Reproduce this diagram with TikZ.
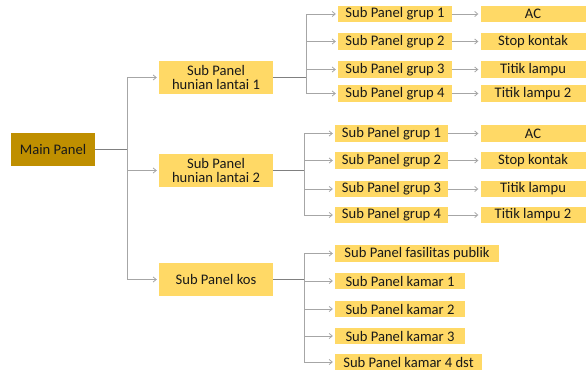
\documentclass[tikz,border=0pt]{standalone}
\usepackage{fontspec}
\setmainfont{Carlito}
\usetikzlibrary{arrows.meta}
\definecolor{panelgold}{HTML}{BF8F00}
\definecolor{panelyellow}{HTML}{FFD966}
\definecolor{linegray}{HTML}{A6A6A6}
\definecolor{feedgray}{HTML}{808080}
\tikzset{
  mainbox/.style={fill=panelgold, minimum width=84pt, minimum height=33pt, inner sep=0pt},
  subbox/.style={fill=panelyellow, minimum width=114pt, minimum height=33pt, inner sep=0pt, align=center},
  grupbox/.style={fill=panelyellow, minimum height=16.5pt, inner sep=0pt},
  feed/.style={draw=feedgray, line width=0.8pt},
  branch/.style={draw=linegray, line width=0.8pt, -{Straight Barb[length=3pt,width=5pt]}, shorten >=2pt},
}
\begin{document}
\begin{tikzpicture}[x=1pt, y=-1pt, font=\fontsize{14.6}{14.5}\selectfont, text=black!90]
\useasboundingbox (0,0) rectangle (586,371);
% level 0 and 1
\node[mainbox] (main) at (53,149.5) {Main Panel};
\node[subbox] (sp1) at (216,77.5) {Sub Panel\\hunian lantai 1};
\node[subbox] (sp2) at (216,170.5) {Sub Panel\\hunian lantai 2};
\node[subbox] (kos) at (216,279.5) {Sub Panel kos};
% hunian lantai 1
\node[grupbox, minimum width=114pt] (g11) at (395,14) {Sub Panel grup 1};
\node[grupbox, minimum width=114pt] (g12) at (395,41.5) {Sub Panel grup 2};
\node[grupbox, minimum width=114pt] (g13) at (395,69.5) {Sub Panel grup 3};
\node[grupbox, minimum width=114pt] (g14) at (395,93.5) {Sub Panel grup 4};
\node[grupbox, minimum width=105pt] (a11) at (533,14) {AC};
\node[grupbox, minimum width=105pt] (a12) at (533,41.5) {Stop kontak};
\node[grupbox, minimum width=105pt] (a13) at (533,69.5) {Titik lampu};
\node[grupbox, minimum width=105pt] (a14) at (533,93.5) {Titik lampu 2};
% hunian lantai 2
\node[grupbox, minimum width=113pt] (g21) at (391.5,133.5) {Sub Panel grup 1};
\node[grupbox, minimum width=113pt] (g22) at (391.5,160.5) {Sub Panel grup 2};
\node[grupbox, minimum width=113pt] (g23) at (391.5,189) {Sub Panel grup 3};
\node[grupbox, minimum width=113pt] (g24) at (391.5,215) {Sub Panel grup 4};
\node[grupbox, minimum width=105pt] (a21) at (533,133.5) {AC};
\node[grupbox, minimum width=105pt] (a22) at (533,160.5) {Stop kontak};
\node[grupbox, minimum width=105pt] (a23) at (533,189) {Titik lampu};
\node[grupbox, minimum width=105pt] (a24) at (533,215) {Titik lampu 2};
% kos
\node[grupbox, minimum width=164pt] (k0) at (417,253.5) {Sub Panel fasilitas publik};
\node[grupbox, minimum width=130pt] (k1) at (400,281) {Sub Panel kamar 1};
\node[grupbox, minimum width=130pt] (k2) at (400,309) {Sub Panel kamar 2};
\node[grupbox, minimum width=130pt] (k3) at (400,336) {Sub Panel kamar 3};
\node[grupbox, minimum width=147pt] (k4) at (408.5,362) {Sub Panel kamar 4 dst};
% junctions
\coordinate (j0) at (127,149.5);
\coordinate (j1) at (306,77.5);
\coordinate (j2) at (304,170.5);
\coordinate (j3) at (304,279.5);
% connectors
\draw[feed] (main) -- (j0);
\draw[branch] (j0) |- (sp1);
\draw[branch] (j0) |- (sp2);
\draw[branch] (j0) |- (kos);
\draw[feed] (sp1) -- (j1);
\draw[branch] (j1) |- (g11);
\draw[branch] (j1) |- (g12);
\draw[branch] (j1) |- (g13);
\draw[branch] (j1) |- (g14);
\draw[branch] (g11) -- (a11);
\draw[branch] (g12) -- (a12);
\draw[branch] (g13) -- (a13);
\draw[branch] (g14) -- (a14);
\draw[feed] (sp2) -- (j2);
\draw[branch] (j2) |- (g21);
\draw[branch] (j2) |- (g22);
\draw[branch] (j2) |- (g23);
\draw[branch] (j2) |- (g24);
\draw[branch] (g21) -- (a21);
\draw[branch] (g22) -- (a22);
\draw[branch] (g23) -- (a23);
\draw[branch] (g24) -- (a24);
\draw[feed] (kos) -- (j3);
\draw[branch] (j3) |- (k0);
\draw[branch] (j3) |- (k1);
\draw[branch] (j3) |- (k2);
\draw[branch] (j3) |- (k3);
\draw[branch] (j3) |- (k4);
\end{tikzpicture}
\end{document}
